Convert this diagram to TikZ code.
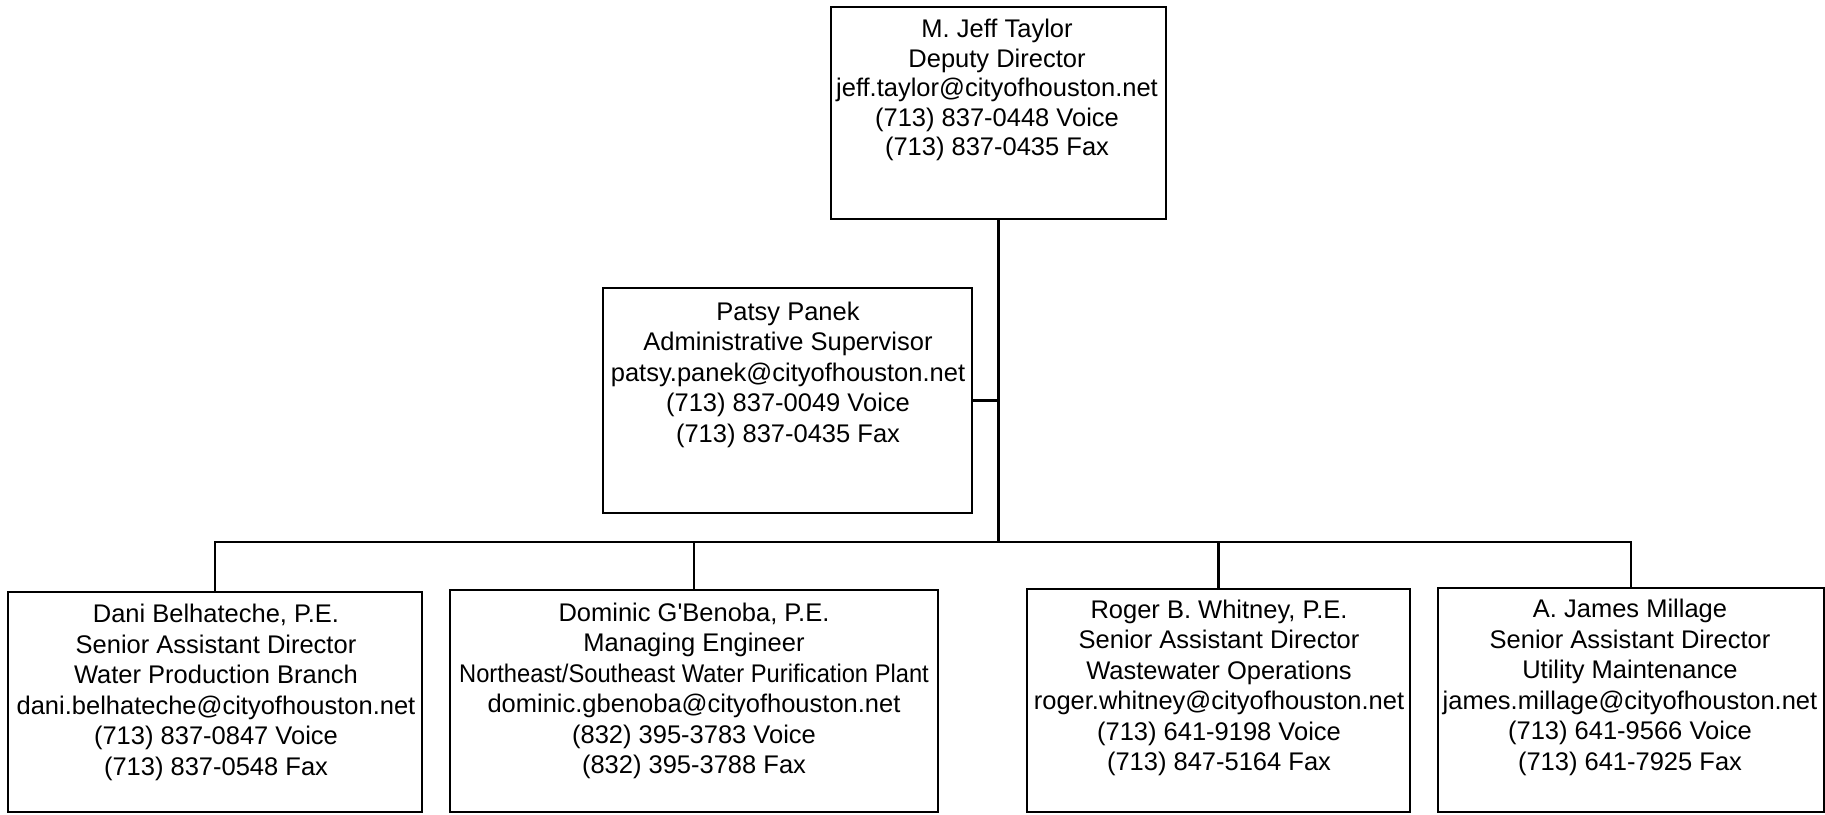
\documentclass[tikz,border=0pt]{standalone}
\usepackage{fontspec}
\setmainfont{Liberation Sans}
\usepackage{graphicx}
\definecolor{CInk}{HTML}{000000}
\newcommand{\squeezeline}[1]{\scalebox{0.93}[1]{#1}}

\begin{document}
\begin{tikzpicture}[x=1pt, y=-1pt,
    card/.style={draw=CInk, line width=2.6pt, rectangle, inner sep=0pt, fill=white},
    info/.style={align=center, inner sep=0pt, text=CInk, font=\fontsize{25.5}{30.5}\selectfont},
    link/.style={draw=CInk, line width=2.6pt}]
    % Page frame
    \useasboundingbox (0,0) rectangle (1825,814);
    \coordinate (busLevel) at (0,542);

    % Deputy Director (top)
    \node[card, minimum width=335pt, minimum height=212pt] (taylor) at (998.5,113) {};
    \node[info, font=\fontsize{25.5}{29.5}\selectfont] (taylorTxt) at (997,90) {M. Jeff Taylor\\Deputy Director\\jeff.taylor@cityofhouston.net\\(713) 837-0448 Voice\\(713) 837-0435 Fax};

    % Administrative Supervisor (side)
    \node[card, minimum width=369pt, minimum height=225pt] (panek) at (787.5,400.5) {};
    \node[info] (panekTxt) at (788,374.5) {Patsy Panek\\Administrative Supervisor\\patsy.panek@cityofhouston.net\\(713) 837-0049 Voice\\(713) 837-0435 Fax};

    % Bottom row
    \node[card, minimum width=414pt, minimum height=220pt] (belhateche) at (215,702) {};
    \node[info] (belhatecheTxt) at (216,692.5) {Dani Belhateche, P.E.\\Senior Assistant Director\\Water Production Branch\\dani.belhateche@cityofhouston.net\\(713) 837-0847 Voice\\(713) 837-0548 Fax};

    \node[card, minimum width=488pt, minimum height=222pt] (gbenoba) at (694,701) {};
    \node[info] (gbenobaTxt) at (694,691) {Dominic G\textquotesingle Benoba, P.E.\\Managing Engineer\\\squeezeline{Northeast/Southeast Water Purification Plant}\\dominic.gbenoba@cityofhouston.net\\(832) 395-3783 Voice\\(832) 395-3788 Fax};

    \node[card, minimum width=383pt, minimum height=223pt] (whitney) at (1218.5,700.5) {};
    \node[info] (whitneyTxt) at (1219,688) {Roger B. Whitney, P.E.\\Senior Assistant Director\\Wastewater Operations\\roger.whitney@cityofhouston.net\\(713) 641-9198 Voice\\(713) 847-5164 Fax};

    \node[card, minimum width=386pt, minimum height=224pt] (millage) at (1631,700) {};
    \node[info] (millageTxt) at (1630,687.5) {A. James Millage\\Senior Assistant Director\\Utility Maintenance\\james.millage@cityofhouston.net\\(713) 641-9566 Voice\\(713) 641-7925 Fax};

    % Connectors
    \draw[link] (taylor.south) -- (taylor.south |- busLevel);
    \draw[link] (panek.east) -- (panek.east -| taylor.south);
    \draw[link] (belhateche.north) |- (millage.north |- busLevel) -- (millage.north);
    \draw[link] (gbenoba.north) -- (gbenoba.north |- busLevel);
    \draw[link] (whitney.north) -- (whitney.north |- busLevel);
\end{tikzpicture}
\end{document}
